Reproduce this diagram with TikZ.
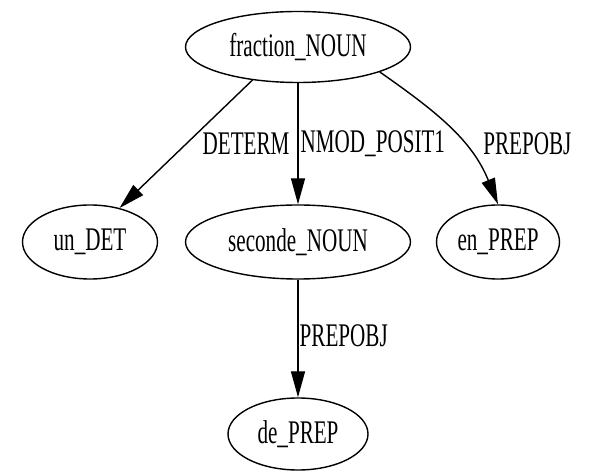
\documentclass[tikz,border=0pt]{standalone}
\usepackage{fontspec}
\setmainfont{Liberation Serif}[FakeStretch=0.64]
\usetikzlibrary{shapes.geometric,arrows.meta}
\begin{document}
\begin{tikzpicture}[x=1pt,y=1pt,
        word/.style={ellipse,draw,line width=1.4pt,inner sep=0pt,minimum height=74pt,font=\fontsize{33}{36}\selectfont},
        dep/.style={line width=1.4pt,-{Triangle[length=26pt,width=14pt]}},
        rel/.style={inner sep=0pt,font=\fontsize{33}{36}\selectfont}]
        \useasboundingbox (0,0) rectangle (594,476);
        % Draw the words
        \node[word,minimum width=225pt,minimum height=71pt] (fraction) at (298,429) {fraction\_NOUN};
        \node[word,minimum width=135pt] (un) at (90,234) {un\_DET};
        \node[word,minimum width=225pt] (seconde) at (298,234) {seconde\_NOUN};
        \node[word,minimum width=123pt] (en) at (498,234) {en\_PREP};
        \node[word,minimum width=140pt,minimum height=72pt] (de) at (298,42) {de\_PREP};
        % Draw the dependencies
        \draw[dep] (fraction.216) -- node[rel,pos=0.5,anchor=west,xshift=16pt] (determ) {DETERM} (un.49);
        \draw[dep] (fraction.south) -- node[rel,pos=0.5,anchor=west,xshift=2pt] (nmod) {NMOD\_POSIT1} (seconde.north);
        \draw[dep] (fraction.343) to[out=-35,in=112] node[rel,pos=0.62,anchor=west,xshift=19pt] (prepobj) {PREPOBJ} (en.north);
        \draw[dep] (seconde.south) -- node[rel,pos=0.48,anchor=west,xshift=1pt] (deobj) {PREPOBJ} (de.north);
    \end{tikzpicture}
\end{document}
